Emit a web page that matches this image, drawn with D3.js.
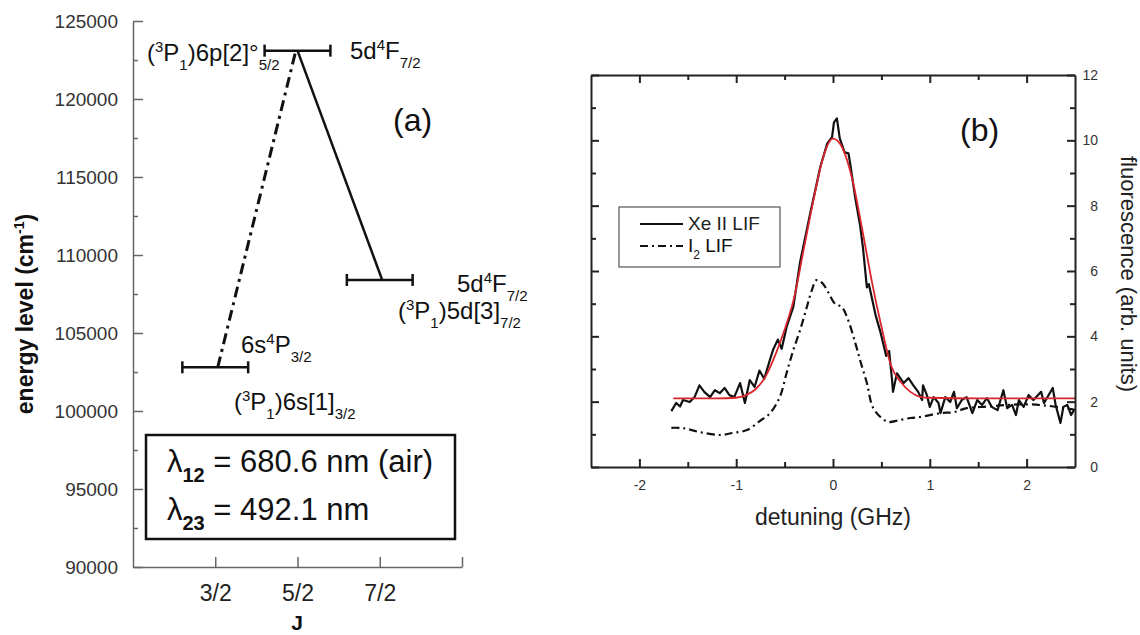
<!DOCTYPE html>
<html>
<head>
<meta charset="utf-8">
<script src="https://cdn.jsdelivr.net/npm/d3@7"></script>
<style>
  body { margin: 0; background: #fff; }
  svg { font-family: "Liberation Sans", Arial, sans-serif; }
</style>
</head>
<body>
<div id="chart"></div>
<script>
// ---------- panel (a): energy levels ----------
var levelJ = [1.5, 2.5, 3.5];
var levelE = [102800, 123100, 108400];
var pumpJ = [1.53, 2.48];           // dash-dot transition
var pumpE = [102800, 123100];
var fluorJ = [2.5, 3.53];           // solid transition
var fluorE = [123100, 108400];
var energyTicks = [90000, 95000, 100000, 105000, 110000, 115000, 120000, 125000];
var energyMinor = [92500, 97500, 102500, 107500, 112500, 117500, 122500];
var jTicks = [1.5, 2.5, 3.5, 4.5];
var jLabels = ["3/2", "5/2", "7/2", ""];

// ---------- panel (b): LIF spectra ----------
var xeX = [-1.67, -1.62, -1.58, -1.55, -1.48, -1.43, -1.38, -1.33, -1.27, -1.22, -1.17, -1.12, -1.07, -1.02,
  -0.96, -0.91, -0.86, -0.81, -0.76, -0.71, -0.66, -0.62, -0.57, -0.53, -0.48, -0.41, -0.34, -0.24, -0.13,
  -0.06, -0.01, 0.01, 0.04, 0.07, 0.12, 0.16, 0.18, 0.23, 0.28, 0.31, 0.35, 0.37, 0.44, 0.49, 0.55, 0.58,
  0.61, 0.62, 0.66, 0.73, 0.78, 0.83, 0.88, 0.92, 0.93, 0.97, 1.00, 1.04, 1.09, 1.11, 1.16, 1.21, 1.25,
  1.28, 1.33, 1.38, 1.44, 1.49, 1.54, 1.59, 1.64, 1.70, 1.76, 1.80, 1.85, 1.89, 1.92, 1.97, 2.02, 2.07,
  2.15, 2.18, 2.27, 2.30, 2.35, 2.38, 2.42, 2.46, 2.49];
var xeY = [1.71, 1.96, 1.85, 2.05, 1.99, 2.14, 2.5, 2.3, 2.14, 2.35, 2.26, 2.42, 2.2, 2.14,
  2.57, 1.96, 2.66, 2.45, 2.95, 2.7, 3.2, 3.58, 3.9, 3.62, 4.28, 4.9, 6.27, 7.7, 9.2,
  9.9, 10.1, 10.55, 10.67, 10.06, 9.63, 9.6, 9.24, 8.23, 7.4, 6.7, 5.5, 5.6, 4.65, 4.13, 3.4, 3.55,
  2.66, 2.3, 2.87, 2.57, 2.72, 2.5, 2.3, 2.05, 2.5, 2.2, 1.84, 2.14, 1.96, 1.65, 2.14, 1.99, 2.3,
  1.8, 2.05, 2.14, 1.65, 2.05, 1.9, 2.11, 1.84, 1.74, 2.35, 1.8, 1.9, 1.59, 2.05, 1.84, 2.2, 2.05,
  2.3, 1.96, 2.42, 1.9, 1.35, 1.84, 1.9, 1.59, 1.74];
var i2X = [-1.67, -1.55, -1.38, -1.17, -1.04, -0.89, -0.76, -0.65, -0.55, -0.48, -0.41, -0.34, -0.27,
  -0.22, -0.17, -0.11, -0.05, 0.02, 0.09, 0.15, 0.23, 0.28, 0.35, 0.41, 0.49, 0.57, 0.69, 0.80, 0.90,
  1.11, 1.25, 1.38, 1.6, 1.8, 2.0, 2.2, 2.4, 2.5];
var i2Y = [1.2, 1.19, 1.07, 0.98, 1.04, 1.13, 1.4, 1.65, 2.14, 2.87, 3.58, 4.19, 4.9,
  5.4, 5.72, 5.63, 5.35, 5.0, 4.9, 4.55, 3.8, 3.27, 2.57, 1.84, 1.53, 1.38, 1.44, 1.5, 1.53,
  1.65, 1.68, 1.8, 1.85, 1.9, 1.92, 1.88, 1.8, 1.75];
var fitX = [-1.65, -1.2, -1.0, -0.9, -0.8, -0.7, -0.6, -0.5, -0.4, -0.3, -0.2, -0.1, 0, 0.1, 0.2,
  0.3, 0.4, 0.5, 0.6, 0.7, 0.8, 0.9, 1.0, 1.5, 2.0, 2.5];
var fitY = [2.1, 2.1, 2.12, 2.2, 2.38, 2.75, 3.4, 4.2, 5.2, 6.7, 8.2, 9.5, 10.05, 9.75, 8.8,
  7.3, 5.7, 4.3, 3.1, 2.6, 2.3, 2.15, 2.12, 2.1, 2.1, 2.1];
var detuneTicks = [-2, -1, 0, 1, 2];
var detuneMinor = [-1.5, -0.5, 0.5, 1.5];
var fluorTicks = [0, 2, 4, 6, 8, 10, 12];
var fluorMinor = [1, 3, 5, 7, 9, 11];

var svg = d3.select("#chart").append("svg")
    .attr("width", 1140)
    .attr("height", 635);

svg.append("rect").attr("width", 1140).attr("height", 635).attr("fill", "#fff");

// text with superscript / subscript parts
function richText(g, x, y, parts, opts) {
    var t = g.append("text")
        .attr("x", x).attr("y", y)
        .attr("font-size", opts.size)
        .attr("font-weight", opts.weight || null)
        .attr("text-anchor", opts.anchor || "start")
        .attr("fill", "#111");
    var shift = 0;
    parts.forEach(function (p) {
        var target = p[1] === "sup" ? -opts.sup : (p[1] === "sub" ? opts.sub : 0);
        t.append("tspan")
            .attr("dy", target - shift)
            .attr("font-size", p[1] ? opts.small : null)
            .attr("font-weight", p[2] || null)
            .text(p[0]);
        shift = target;
    });
    return t;
}

function styleAxis(g, color, width) {
    g.select(".domain").attr("stroke", color).attr("stroke-width", width);
    g.selectAll(".tick line").attr("stroke", color).attr("stroke-width", width);
}

// ================= panel (a) =================
var ax = d3.scaleLinear().domain([0.5, 4.5]).range([133, 462]);
var ay = d3.scaleLinear().domain([90000, 125000]).range([567, 21]);
var ga = svg.append("g");

var yAxisA = ga.append("g")
    .attr("transform", "translate(133,0)")
    .call(d3.axisLeft(ay).tickValues(energyTicks).tickSizeInner(-10).tickSizeOuter(0)
        .tickPadding(15).tickFormat(function (d) { return d; }));
yAxisA.selectAll("text").attr("font-size", 19).attr("fill", "#333");
styleAxis(yAxisA, "#666", 1.5);

var yMinorA = ga.append("g")
    .attr("transform", "translate(133,0)")
    .call(d3.axisLeft(ay).tickValues(energyMinor).tickSize(-5).tickFormat(""));
yMinorA.select(".domain").remove();
styleAxis(yMinorA, "#666", 1.5);

var xAxisA = ga.append("g")
    .attr("transform", "translate(0,567)")
    .call(d3.axisBottom(ax).tickValues(jTicks).tickSizeInner(-10).tickSizeOuter(0)
        .tickPadding(18).tickFormat(function (d, i) { return jLabels[i]; }));
xAxisA.selectAll("text").attr("font-size", 23).attr("fill", "#222");
styleAxis(xAxisA, "#666", 1.5);

// axis titles
ga.append("text")
    .attr("x", 297).attr("y", 630)
    .attr("text-anchor", "middle")
    .attr("font-size", 21).attr("font-weight", "bold")
    .attr("fill", "#111")
    .text("J");
richText(ga, 0, 0, [["energy level (cm", 0], ["-1", "sup"], [")", 0]],
    { size: 23, small: 14, sup: 9, sub: 9, weight: "bold", anchor: "middle" })
    .attr("transform", "translate(33,314) rotate(-90)");

// transitions
var lineA = d3.line()
    .x(function (d) { return ax(d[0]); })
    .y(function (d) { return ay(d[1]); });

ga.append("path")
    .attr("d", lineA(d3.zip(pumpJ, pumpE)))
    .attr("fill", "none").attr("stroke", "#111").attr("stroke-width", 3)
    .attr("stroke-dasharray", "11,5,3,5");
ga.append("path")
    .attr("d", lineA(d3.zip(fluorJ, fluorE)))
    .attr("fill", "none").attr("stroke", "#111").attr("stroke-width", 2.5);

// level bars with end caps
var levels = ga.selectAll(".level")
    .data(d3.zip(levelJ, levelE))
    .enter().append("g")
    .attr("class", "level");
levels.append("line")
    .attr("x1", function (d) { return ax(d[0] - 0.4); })
    .attr("x2", function (d) { return ax(d[0] + 0.4); })
    .attr("y1", function (d) { return ay(d[1]); })
    .attr("y2", function (d) { return ay(d[1]); });
[-0.4, 0.4].forEach(function (off) {
    levels.append("line")
        .attr("x1", function (d) { return ax(d[0] + off); })
        .attr("x2", function (d) { return ax(d[0] + off); })
        .attr("y1", function (d) { return ay(d[1]) - 6; })
        .attr("y2", function (d) { return ay(d[1]) + 6; });
});
levels.selectAll("line").attr("stroke", "#111").attr("stroke-width", 2.5);

// level labels
var lab = { size: 24, small: 15, sup: 9, sub: 9 };
richText(ga, 147, 61, [["(", 0], ["3", "sup"], ["P", 0], ["1", "sub"], [")6p[2]°", 0], ["5/2", "sub"]], lab);
richText(ga, 350, 59, [["5d", 0], ["4", "sup"], ["F", 0], ["7/2", "sub"]], lab);
richText(ga, 457, 292, [["5d", 0], ["4", "sup"], ["F", 0], ["7/2", "sub"]], lab);
richText(ga, 398, 319, [["(", 0], ["3", "sup"], ["P", 0], ["1", "sub"], [")5d[3]", 0], ["7/2", "sub"]], lab);
richText(ga, 241, 353, [["6s", 0], ["4", "sup"], ["P", 0], ["3/2", "sub"]], lab);
richText(ga, 234, 410, [["(", 0], ["3", "sup"], ["P", 0], ["1", "sub"], [")6s[1]", 0], ["3/2", "sub"]], lab);

ga.append("text")
    .attr("x", 393).attr("y", 131)
    .attr("font-size", 32).attr("fill", "#111")
    .text("(a)");

// wavelength box
ga.append("rect")
    .attr("x", 146).attr("y", 435).attr("width", 309).attr("height", 104)
    .attr("fill", "#fff").attr("stroke", "#111").attr("stroke-width", 2.5);
var boxOpts = { size: 31, small: 20, sup: 10, sub: 10 };
richText(ga, 167, 472, [["λ", 0], ["12", "sub", "bold"], [" = 680.6 nm (air)", 0]], boxOpts);
richText(ga, 167, 520, [["λ", 0], ["23", "sub", "bold"], [" = 492.1 nm", 0]], boxOpts);

// ================= panel (b) =================
var bx = d3.scaleLinear().domain([-2.5, 2.5]).range([591, 1075]);
var by = d3.scaleLinear().domain([0, 12]).range([467, 75]);
var gb = svg.append("g");

svg.append("clipPath").attr("id", "plot-clip")
    .append("rect").attr("x", 591).attr("y", 75).attr("width", 484).attr("height", 392);

var lineB = d3.line()
    .x(function (d) { return bx(d[0]); })
    .y(function (d) { return by(d[1]); });

var curves = gb.append("g").attr("clip-path", "url(#plot-clip)");
curves.append("path")
    .attr("d", lineB.curve(d3.curveCatmullRom)(d3.zip(i2X, i2Y)))
    .attr("fill", "none").attr("stroke", "#111").attr("stroke-width", 2.2)
    .attr("stroke-dasharray", "8,4,2,4");
curves.append("path")
    .attr("d", lineB.curve(d3.curveLinear)(d3.zip(xeX, xeY)))
    .attr("fill", "none").attr("stroke", "#111").attr("stroke-width", 2.2)
    .attr("stroke-linejoin", "round");
curves.append("path")
    .attr("d", lineB.curve(d3.curveMonotoneX)(d3.zip(fitX, fitY)))
    .attr("fill", "none").attr("stroke", "#d9262c").attr("stroke-width", 1.8);

// axes on all four sides, ticks inward
var bBottom = gb.append("g").attr("transform", "translate(0,467)")
    .call(d3.axisBottom(bx).tickValues(detuneTicks).tickSizeInner(-8).tickSizeOuter(0)
        .tickPadding(13).tickFormat(function (d) { return String(d); }));
bBottom.selectAll("text").attr("font-size", 14).attr("fill", "#333");
var bTop = gb.append("g").attr("transform", "translate(0,75)")
    .call(d3.axisTop(bx).tickValues(detuneTicks).tickSizeInner(-8).tickSizeOuter(0).tickFormat(""));
var bLeft = gb.append("g").attr("transform", "translate(591,0)")
    .call(d3.axisLeft(by).tickValues(fluorTicks).tickSizeInner(-8).tickSizeOuter(0).tickFormat(""));
var bRight = gb.append("g").attr("transform", "translate(1075,0)")
    .call(d3.axisRight(by).tickValues(fluorTicks).tickSizeInner(-8).tickSizeOuter(0)
        .tickFormat(function (d) { return d; }));
bRight.selectAll("text").attr("font-size", 14).attr("fill", "#333")
    .attr("text-anchor", "end").attr("x", 23);
[bBottom, bTop, bLeft, bRight].forEach(function (g) { styleAxis(g, "#222", 2); });

var minors = [
    ["translate(0,467)", d3.axisBottom(bx).tickValues(detuneMinor)],
    ["translate(0,75)", d3.axisTop(bx).tickValues(detuneMinor)],
    ["translate(591,0)", d3.axisLeft(by).tickValues(fluorMinor)],
    ["translate(1075,0)", d3.axisRight(by).tickValues(fluorMinor)]
];
minors.forEach(function (m) {
    var g = gb.append("g").attr("transform", m[0])
        .call(m[1].tickSize(-5).tickFormat(""));
    g.select(".domain").remove();
    styleAxis(g, "#222", 2);
});

// axis titles
gb.append("text")
    .attr("x", 833).attr("y", 525)
    .attr("text-anchor", "middle")
    .attr("font-size", 23).attr("fill", "#222")
    .text("detuning (GHz)");
gb.append("text")
    .attr("transform", "translate(1121,274) rotate(90)")
    .attr("text-anchor", "middle")
    .attr("font-size", 22).attr("fill", "#222")
    .text("fluorescence (arb. units)");

gb.append("text")
    .attr("x", 960).attr("y", 141)
    .attr("font-size", 32).attr("fill", "#111")
    .text("(b)");

// legend
var leg = gb.append("g");
leg.append("rect")
    .attr("x", 619).attr("y", 207).attr("width", 161).attr("height", 60)
    .attr("fill", "#fff").attr("stroke", "#555").attr("stroke-width", 1.2);
leg.append("line")
    .attr("x1", 640).attr("x2", 683).attr("y1", 224).attr("y2", 224)
    .attr("stroke", "#111").attr("stroke-width", 2);
leg.append("line")
    .attr("x1", 640).attr("x2", 683).attr("y1", 246).attr("y2", 246)
    .attr("stroke", "#111").attr("stroke-width", 2)
    .attr("stroke-dasharray", "8,4,2,4");
leg.append("text")
    .attr("x", 688).attr("y", 230)
    .attr("font-size", 19).attr("fill", "#222")
    .text("Xe II LIF");
richText(leg, 688, 252, [["I", 0], ["2", "sub"], [" LIF", 0]], { size: 19, small: 12, sup: 7, sub: 7 });
</script>
</body>
</html>
